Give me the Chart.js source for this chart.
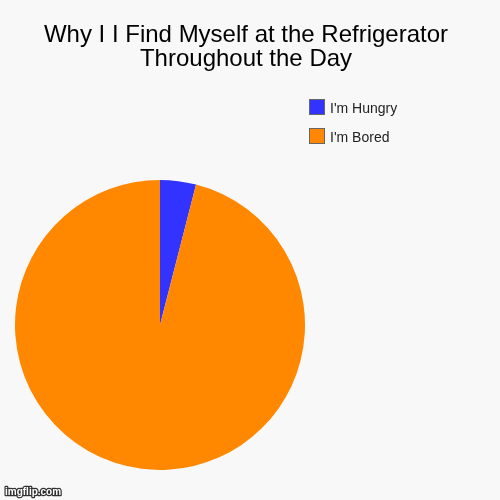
<!DOCTYPE html>
<html>
<head>
<meta charset="utf-8">
<script src="https://cdn.jsdelivr.net/npm/chart.js@4.4.0/dist/chart.umd.min.js"></script>
<style>
  html, body { margin: 0; padding: 0; background: #f8f8f8; }
  canvas { display: block; }
</style>
</head>
<body>
<canvas id="grafica" width="500" height="500"></canvas>
<script>
const titulo = ["Why I I Find Myself at the Refrigerator", "Throughout the Day"]
const categorias = ["I'm Hungry", "I'm Bored"]
const valores = [4, 96]
const colores = ["#3333ff", "#ff8800"]

// titulo, leyenda y marca de agua dibujados a mano sobre el canvas
const textos = {
    id: "textos",
    beforeDraw(chart) {
        const ctx = chart.ctx
        ctx.save()
        ctx.fillStyle = "#f8f8f8"
        ctx.fillRect(0, 0, chart.width, chart.height)
        ctx.restore()
    },
    afterDraw(chart) {
        const ctx = chart.ctx
        ctx.save()
        ctx.fillStyle = "#000"
        ctx.font = "24px 'Liberation Sans', Arial, sans-serif"
        ctx.textAlign = "center"
        ctx.textBaseline = "alphabetic"
        titulo.forEach((linea, i) => ctx.fillText(linea, 246, 42 + i * 24))

        const colorSet = chart.data.datasets[0].backgroundColor
        ctx.textAlign = "left"
        ctx.font = "14px 'Liberation Sans', Arial, sans-serif"
        chart.data.labels.forEach((label, i) => {
            const y = 100 + i * 29
            ctx.fillStyle = "#666"
            ctx.fillRect(309, y - 1, 16, 16)
            ctx.fillStyle = colorSet[i]
            ctx.fillRect(310, y, 14, 14)
            ctx.fillStyle = "#222"
            ctx.fillText(label, 330, y + 13)
        })

        ctx.font = "bold 10px 'Liberation Sans', Arial, sans-serif"
        ctx.lineWidth = 2.5
        ctx.strokeStyle = "#333"
        ctx.lineJoin = "round"
        ctx.strokeText("imgflip.com", 5, 495)
        ctx.fillStyle = "#fff"
        ctx.fillText("imgflip.com", 5, 495)
        ctx.restore()
    }
}

new Chart(document.querySelector("#grafica"), {
    type: "pie",
    data: {
        labels: categorias,
        datasets: [{
            data: valores,
            backgroundColor: colores,
            borderWidth: 0,
            hoverOffset: 0
        }]
    },
    options: {
        responsive: false,
        animation: false,
        devicePixelRatio: 1,
        layout: { padding: { left: 15, right: 195, top: 180, bottom: 30 } },
        plugins: {
            legend: { display: false },
            title: { display: false },
            tooltip: { enabled: false }
        }
    },
    plugins: [textos]
})
</script>
</body>
</html>
